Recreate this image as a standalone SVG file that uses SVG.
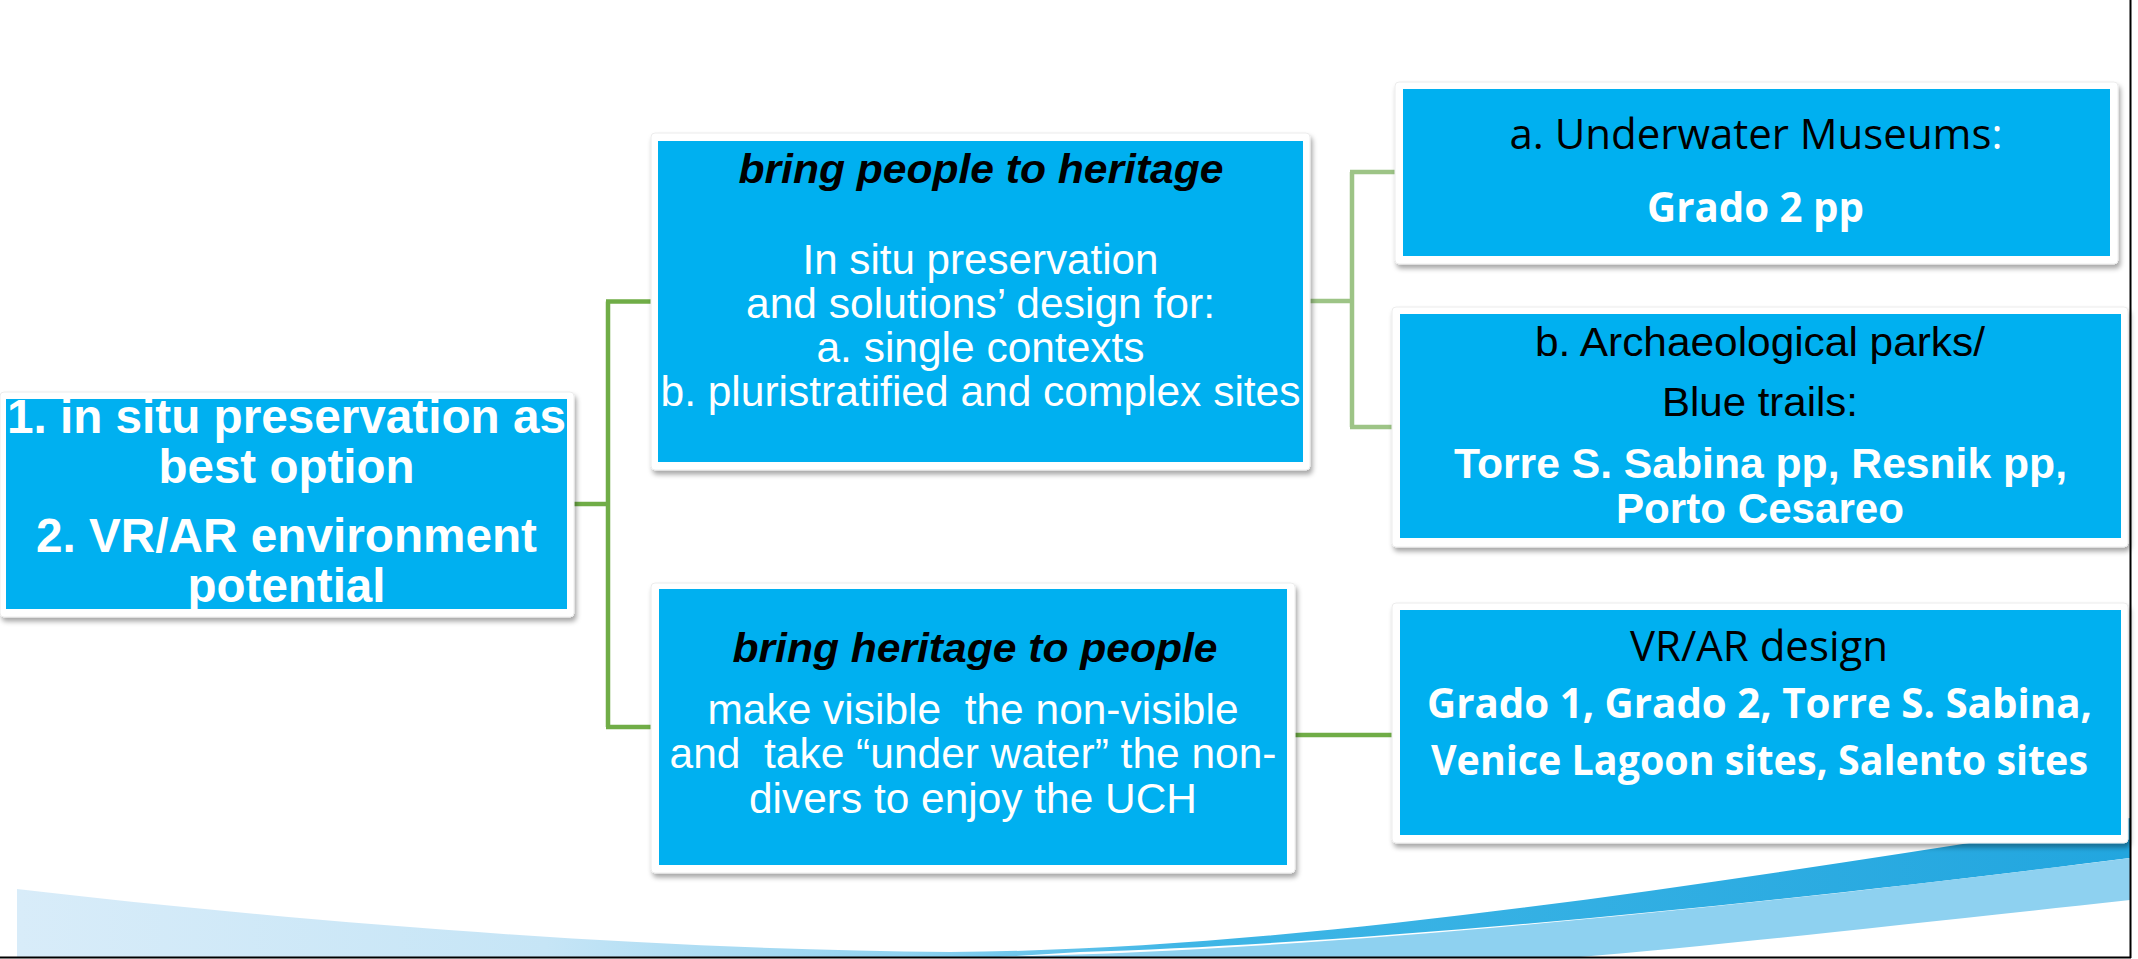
<svg xmlns="http://www.w3.org/2000/svg" width="2138" height="959" viewBox="0 0 2138 959">
<defs>
<filter id="sh" x="-5%" y="-5%" width="110%" height="115%">
<feDropShadow dx="2" dy="4" stdDeviation="2.5" flood-color="#000" flood-opacity="0.35"/>
</filter>
<linearGradient id="g1" x1="0" y1="0" x2="1" y2="0">
<stop offset="0" stop-color="#d8ecf9"/>
<stop offset="0.25" stop-color="#c6e5f6"/>
<stop offset="0.42" stop-color="#8fd2f0"/>
<stop offset="0.55" stop-color="#3fb6e6"/>
<stop offset="1" stop-color="#22a6df"/>
</linearGradient>
<style>
.frame{fill:#fff;stroke:#ececec;stroke-width:1;filter:url(#sh)}
.blue{fill:#00b0f0}
.conn{fill:none;stroke:#70ad47;stroke-width:4.5}
.conn2{fill:none;stroke:#9dc486;stroke-width:4.5}
text{text-anchor:middle;white-space:pre}
.ar{font-family:"Liberation Sans",Arial,sans-serif}
.os{font-family:"Open Sans","Noto Sans",sans-serif}
.w{fill:#fff}
.k{fill:#000}
.b{font-weight:bold}
.bi{font-weight:bold;font-style:italic}
</style>
</defs>
<rect width="2138" height="959" fill="#fff"/>
<g id="swoosh">
<path d="M17,889 C300,922 650,950 950,952 C1300,950 1700,885 2130,818 L2130,858 C1800,900 1400,942 1080,952 L1000,957 L17,957 Z" fill="url(#g1)"/>
<path d="M980,957 C1300,952 1700,912 2130,858 L2130,900 C1900,925 1720,945 1580,957 Z" fill="#8ed1f0"/>
</g>
<g id="connectors">
<path class="conn" d="M574,504 H608 M608,301.5 V727 M606,301.5 H652 M606,727 H652"/>
<path class="conn2" d="M1310,301 H1352 M1352,172 V427 M1350,172 H1396 M1350,427 H1393"/>
<path class="conn" d="M1295,735 H1393"/>
</g>
<g id="root">
<rect class="frame" x="0" y="392" width="574" height="225" rx="4"/>
<rect class="blue" x="6" y="399" width="561" height="210"/>
<text class="ar b w" font-size="47.5" x="286.5" y="433" textLength="559" lengthAdjust="spacingAndGlyphs">1. in situ preservation as</text>
<text class="ar b w" font-size="47.5" x="286.5" y="483">best option</text>
<text class="ar b w" font-size="47.5" x="286.5" y="552" textLength="501" lengthAdjust="spacingAndGlyphs">2. VR/AR environment</text>
<text class="ar b w" font-size="47.5" x="286.5" y="601.5">potential</text>
</g>
<g id="people-to-heritage">
<rect class="frame" x="651" y="133" width="659" height="337" rx="4"/>
<rect class="blue" x="658" y="141" width="645" height="321"/>
<text class="ar bi k" font-size="41" x="981" y="183" textLength="485" lengthAdjust="spacingAndGlyphs">bring people to heritage</text>
<text class="ar w" font-size="42" x="980.5" y="274" textLength="356" lengthAdjust="spacingAndGlyphs">In situ preservation</text>
<text class="ar w" font-size="42" x="980.5" y="318" textLength="469" lengthAdjust="spacingAndGlyphs">and solutions’ design for:</text>
<text class="ar w" font-size="42" x="980.5" y="362" textLength="328" lengthAdjust="spacingAndGlyphs">a. single contexts</text>
<text class="ar w" font-size="42" x="980.5" y="406" textLength="640" lengthAdjust="spacingAndGlyphs">b. pluristratified and complex sites</text>
</g>
<g id="heritage-to-people">
<rect class="frame" x="651" y="583" width="644" height="290" rx="4"/>
<rect class="blue" x="659" y="589" width="628" height="276"/>
<text class="ar bi k" font-size="41" x="975" y="662" textLength="485" lengthAdjust="spacingAndGlyphs">bring heritage to people</text>
<text class="ar w" font-size="42" x="973" y="724" textLength="531" lengthAdjust="spacingAndGlyphs">make visible  the non-visible</text>
<text class="ar w" font-size="42" x="973" y="768" textLength="607" lengthAdjust="spacingAndGlyphs">and  take “under water” the non-</text>
<text class="ar w" font-size="42" x="973" y="813" textLength="448" lengthAdjust="spacingAndGlyphs">divers to enjoy the UCH</text>
</g>
<g id="museums">
<rect class="frame" x="1395" y="82" width="723" height="182" rx="4"/>
<rect class="blue" x="1403" y="89" width="707" height="167"/>
<text class="os k" font-size="42" x="1756" y="149" textLength="493" lengthAdjust="spacingAndGlyphs">a. Underwater Museums<tspan class="w">:</tspan></text>
<text class="os b w" font-size="42" x="1755.5" y="221.5" textLength="217" lengthAdjust="spacingAndGlyphs">Grado 2 pp</text>
</g>
<g id="parks">
<rect class="frame" x="1392" y="307" width="736" height="240" rx="4"/>
<rect class="blue" x="1400" y="314" width="721" height="224"/>
<text class="ar k" font-size="41.5" x="1760" y="356" textLength="450" lengthAdjust="spacingAndGlyphs">b. Archaeological parks/</text>
<text class="ar k" font-size="41.5" x="1760" y="416" textLength="196" lengthAdjust="spacingAndGlyphs">Blue trails:</text>
<text class="ar b w" font-size="42.5" x="1760.5" y="478" textLength="613" lengthAdjust="spacingAndGlyphs">Torre S. Sabina pp, Resnik pp,</text>
<text class="ar b w" font-size="42.5" x="1760" y="523" textLength="288" lengthAdjust="spacingAndGlyphs">Porto Cesareo</text>
</g>
<g id="vrar">
<rect class="frame" x="1392" y="603" width="736" height="240" rx="4"/>
<rect class="blue" x="1400" y="610" width="721" height="225"/>
<text class="os k" font-size="42" x="1759" y="661" textLength="258" lengthAdjust="spacingAndGlyphs">VR/AR design</text>
<text class="os b w" font-size="41" x="1759.5" y="718" textLength="665" lengthAdjust="spacingAndGlyphs">Grado 1, Grado 2, Torre S. Sabina,</text>
<text class="os b w" font-size="41" x="1759.5" y="775" textLength="657" lengthAdjust="spacingAndGlyphs">Venice Lagoon sites, Salento sites</text>
</g>
<g id="border">
<path d="M2130.5,0 V958 M0,957.5 H2131" fill="none" stroke="#000" stroke-width="2"/>
</g>
</svg>
